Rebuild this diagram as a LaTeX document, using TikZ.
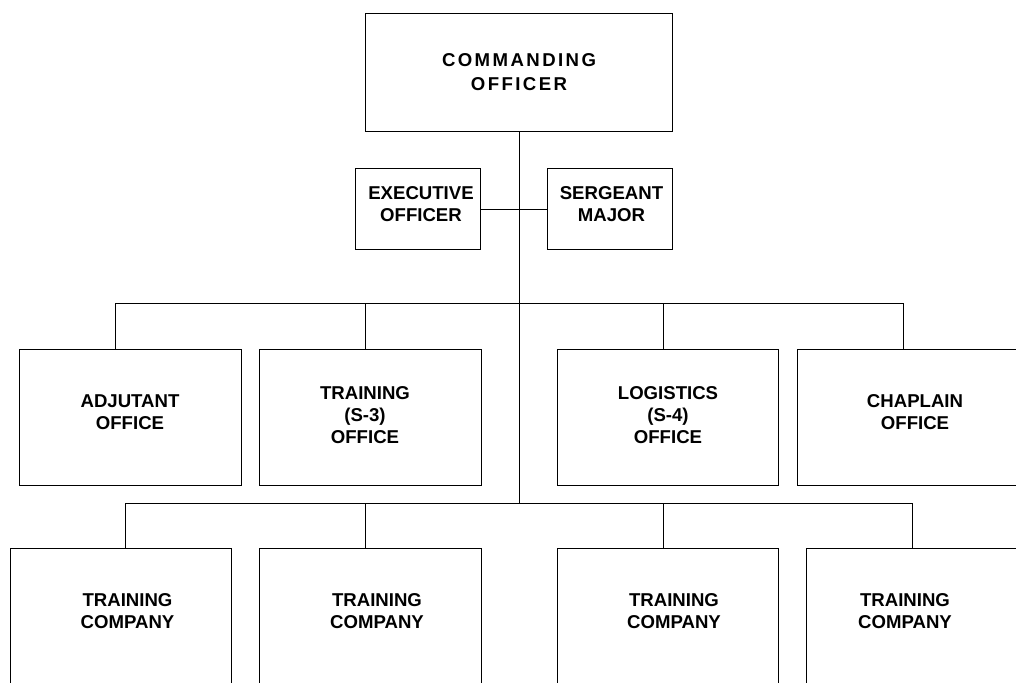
\documentclass[tikz,border=0pt]{standalone}
\usepackage{fontspec}
\setmainfont{Liberation Sans}
\begin{document}
\begin{tikzpicture}[x=1pt,y=-1pt,
  box/.style={draw=black, line width=1pt, fill=white, rectangle, inner sep=0pt, anchor=north west},
  lbl/.style={font=\fontsize{18.6}{22}\selectfont\bfseries, align=center, inner sep=0pt, text=black},
  colbl/.style={font=\fontsize{18.6}{24.3}\selectfont\bfseries\addfontfeature{LetterSpace=13}, align=center, inner sep=0pt, text=black},
  conn/.style={draw=black, line width=1pt}]
\useasboundingbox (0,0) rectangle (1016,682);
\clip (0,0) rectangle (1016,682);
\fill[white] (0,0) rectangle (1016,682);

% top boxes
\node[box, minimum width=307pt, minimum height=118pt] (co) at (365,13) {};
\node[box, minimum width=125pt, minimum height=81pt] (xo) at (355,168) {};
\node[box, minimum width=125pt, minimum height=81pt] (sm) at (547,168) {};

% staff offices
\node[box, minimum width=222pt, minimum height=136pt] (adj) at (19,349) {};
\node[box, minimum width=222pt, minimum height=136pt] (trn) at (259,349) {};
\node[box, minimum width=221pt, minimum height=136pt] (log) at (557,349) {};
\node[box, minimum width=222pt, minimum height=136pt] (chp) at (797,349) {};

% companies
\node[box, minimum width=221pt, minimum height=160pt] (tc1) at (10,548) {};
\node[box, minimum width=222pt, minimum height=160pt] (tc2) at (259,548) {};
\node[box, minimum width=221pt, minimum height=160pt] (tc3) at (557,548) {};
\node[box, minimum width=222pt, minimum height=160pt] (tc4) at (806,548) {};

% labels
\node[colbl] (lco) at (519,72) {COMMANDING\\OFFICER};
\node[lbl] (lxo) at (421,204.5) {EXECUTIVE\\OFFICER};
\node[lbl] (lsm) at (611.5,204.5) {SERGEANT\\MAJOR};
\node[lbl] (ladj) at (130,412.5) {ADJUTANT\\OFFICE};
\node[lbl] (ltrn) at (365,415) {TRAINING\\(S-3)\\OFFICE};
\node[lbl] (llog) at (668,415) {LOGISTICS\\(S-4)\\OFFICE};
\node[lbl] (lchp) at (915,412.5) {CHAPLAIN\\OFFICE};
\node[lbl] (ltc1) at (127.5,611.5) {TRAINING\\COMPANY};
\node[lbl] (ltc2) at (377,611.5) {TRAINING\\COMPANY};
\node[lbl] (ltc3) at (674,611.5) {TRAINING\\COMPANY};
\node[lbl] (ltc4) at (905,611.5) {TRAINING\\COMPANY};

% junction coordinates
\coordinate (j0) at (519,213);
\coordinate (j2) at (519,503);
\coordinate (a1) at (115,303);
\coordinate (a2) at (365,303);
\coordinate (a3) at (663,303);
\coordinate (a4) at (903,303);
\coordinate (b1) at (125,503);
\coordinate (b2) at (365,503);
\coordinate (b3) at (663,503);
\coordinate (b4) at (912,503);

% connectors
\draw[conn] (co.south -| j0) -- (j2);
\draw[conn] (xo.east) -- (sm.west);
\draw[conn] (a1) -- (a4);
\draw[conn] (a1) -- (a1 |- adj.north);
\draw[conn] (a2) -- (a2 |- trn.north);
\draw[conn] (a3) -- (a3 |- log.north);
\draw[conn] (a4) -- (a4 |- chp.north);
\draw[conn] (b1) -- (b4);
\draw[conn] (b1) -- (b1 |- tc1.north);
\draw[conn] (b2) -- (b2 |- tc2.north);
\draw[conn] (b3) -- (b3 |- tc3.north);
\draw[conn] (b4) -- (b4 |- tc4.north);
\end{tikzpicture}
\end{document}
